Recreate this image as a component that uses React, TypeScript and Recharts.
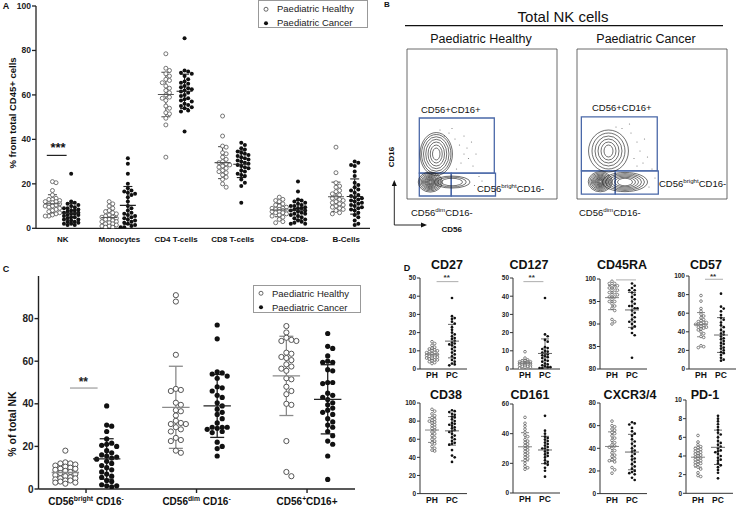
import React from 'react';
import { ScatterChart, Scatter, XAxis, YAxis, ErrorBar, ReferenceLine, ReferenceArea } from 'recharts';

const FONT = '"Liberation Sans", Arial, sans-serif';

// ---- Panel A: % of CD45+ cells ----
const aCategories = ['NK', 'Monocytes', 'CD4 T-cells', 'CD8 T-cells', 'CD4-CD8-', 'B-Cells'];
const aNkHealthy = [21, 20.5, 17, 15, 13.5, 13, 13, 12.5, 12, 12, 11.5, 11, 11, 10.5, 10, 10, 9.5, 9, 8.5, 8, 7.5, 7, 6.5, 6, 5.5, 5.5];
const aNkCancer = [24.5, 12, 11.5, 11, 10.5, 10, 9.5, 9, 9, 8.5, 8, 8, 7.5, 7, 7, 6.5, 6.5, 6, 6, 5.5, 5, 5, 4.5, 4, 4, 3.5, 3, 3, 2.5, 2, 2, 1.5, 1.5];
const aMonoHealthy = [12, 11, 10, 9, 8, 7.5, 7, 6.5, 6, 5.5, 5, 5, 4.5, 4, 4, 3.5, 3, 3, 2.5, 2, 2, 1.5, 1, 1, 0.5, 0.5];
const aMonoCancer = [31.5, 29, 24.5, 20, 18, 17, 16.5, 16, 15.5, 15, 14, 12, 10, 9, 8, 7, 6.5, 6, 5.5, 5, 4.5, 4, 3.5, 3, 2.5, 2, 1.5, 1, 0.5, 0.5];
const aCd4Healthy = [78.5, 72, 71, 69.5, 68.5, 67, 66.5, 65.5, 64, 63, 62, 61, 60, 59, 58.5, 57.5, 55, 54, 52, 51.5, 49.5, 46.5, 32];
const aCd4Cancer = [85.5, 71, 70.5, 70, 69.5, 68.5, 67, 66, 65.5, 65, 64, 63.5, 63, 62.5, 62, 61.5, 61, 60, 59.5, 58.5, 58, 57.5, 57, 56, 55.5, 55, 54.5, 54, 53, 52.5, 43.5];
const aCd8Healthy = [50.5, 41.5, 37, 36.5, 34, 33.5, 32, 31, 30, 29.5, 29, 28.5, 28, 27.5, 27, 26, 25.5, 25, 24, 23, 22, 20, 18.5];
const aCd8Cancer = [38.5, 37.5, 36, 35.5, 34.5, 34, 33.5, 33, 32.5, 32, 31.5, 31, 30.5, 30, 29.5, 29, 28.5, 28, 27.5, 27, 26, 25.5, 24.5, 24, 23.5, 22, 20.5, 19, 11.5];
const aDnHealthy = [14, 13, 12.5, 12, 11, 10.5, 10, 9.5, 9, 9, 8.5, 8.5, 8, 8, 7.5, 7.5, 7, 7, 6.5, 6, 5.5, 5, 4, 3, 2.5];
const aDnCancer = [21, 16.5, 13, 12.5, 12, 11.5, 11, 10.5, 10, 10, 9.5, 9, 9, 8.5, 8, 8, 7.5, 7, 6.5, 6.5, 6, 5.5, 5, 4.5, 4, 3.5, 3, 2.5, 2, 2];
const aBHealthy = [36.5, 25, 20.5, 19, 18.5, 17, 16.5, 15.5, 15, 14, 13.5, 13, 12.5, 12, 11.5, 11, 10.5, 10, 9.5, 9, 8.5, 8, 7, 6.5];
const aBCancer = [30, 29.5, 28.5, 28, 25.5, 23.5, 20.5, 19.5, 18.5, 17.5, 17, 16, 15, 14.5, 14, 13.5, 13, 12.5, 12, 11.5, 11, 10.5, 10, 9.5, 9, 8.5, 8, 7, 6, 5, 3.5, 2, 1.5];
const aHealthy = [aNkHealthy, aMonoHealthy, aCd4Healthy, aCd8Healthy, aDnHealthy, aBHealthy];
const aCancer = [aNkCancer, aMonoCancer, aCd4Cancer, aCd8Cancer, aDnCancer, aBCancer];

// ---- Panel C: % of total NK ----
const cLabels = [
  ['CD56', 'bright', ' CD16', '-'],
  ['CD56', 'dim', ' CD16', '-'],
  ['CD56', '+', 'CD16+', ''],
];
const cBrightHealthy = [18, 12.5, 12, 12, 11.5, 11, 10.5, 10, 9.5, 9.5, 9, 8.5, 8, 7.5, 7, 6.5, 6, 5.5, 5, 5, 4.5, 4, 4, 3.5, 3, 3, 2.5];
const cBrightCancer = [39, 30, 29.5, 27, 23.5, 21.5, 21, 20.5, 20, 18, 17, 16, 15.5, 15, 14.5, 14, 13, 12, 11, 10, 9, 8, 7, 6, 5.5, 4, 3.5, 2, 1.5, 1.5, 1];
const cDimHealthy = [91, 88, 63, 47, 46.5, 46, 40.5, 39.5, 37, 36.5, 34.5, 32, 31, 30.5, 30.5, 29, 28, 27, 24, 23, 22.5, 18, 17];
const cDimCancer = [77, 70.5, 55, 54.5, 54, 53, 52, 48, 47.5, 46, 44, 43, 40.5, 39, 37.5, 36, 35, 33, 31, 29, 29, 29, 28.5, 28, 27, 26.5, 22, 20, 19, 15.5];
const cPosHealthy = [76.5, 73.5, 71, 70, 69.5, 69.5, 64, 63.5, 62, 61.5, 60.5, 58.5, 57.5, 56.5, 55.5, 52, 51.5, 48, 46, 44.5, 40, 39.5, 22.5, 8, 6];
const cPosCancer = [73, 67, 66, 62.5, 60, 59.5, 59.5, 56, 55.5, 50, 50, 49.5, 45, 44, 43, 42, 40.5, 39.5, 38, 37, 36, 35, 33, 31.5, 30, 29, 27, 25, 22.5, 21, 15.5, 4.5];

// ---- Panel D: marker expression, PH vs PC ----
const dGroups = ['PH', 'PC'];
const dCd27Ph = [15, 14, 13, 12, 11.5, 11, 10.5, 10, 10, 9.5, 9, 9, 8.5, 8, 8, 7.5, 7.5, 7, 7, 6.5, 6.5, 6, 6, 5.5, 5, 5, 4.5, 4, 3.5, 3];
const dCd27Pc = [39, 29, 28, 27.5, 26, 25, 23, 21.5, 20, 19, 18, 17, 16.5, 15.5, 14.5, 14, 13.5, 13, 12, 11, 10, 9, 8, 7, 6, 5, 4, 3, 2.5, 2];
const dCd127Ph = [9.5, 6, 5, 4.5, 4.5, 4, 4, 4, 3.5, 3.5, 3.5, 3, 3, 3, 3, 2.5, 2.5, 2.5, 2, 2, 2, 1.5, 1.5, 1, 1, 0.5];
const dCd127Pc = [39, 19, 18, 16, 15, 12, 11.5, 11, 10, 9.5, 9, 8.5, 8, 7.5, 7, 6.5, 6, 5, 4.5, 4, 3, 2.5, 2, 1.5, 1, 1, 0.5, 0.5];
const dCd45raPh = [99.5, 99, 99, 98.5, 98.5, 98, 98, 97.5, 97.5, 97, 97, 96.5, 96.5, 96, 96, 95.5, 95, 95, 94.5, 94, 93.5, 93, 91, 90.5, 90];
const dCd45raPc = [99, 98.5, 98, 97.5, 97.5, 97, 96.5, 96, 95.5, 95, 94.5, 94, 94, 93.5, 93.5, 93, 92.5, 92, 91.5, 91, 90.5, 90.5, 90, 89.5, 89, 88, 87.5, 82.5];
const dCd57Ph = [79, 73, 65, 62, 59, 57, 55, 53, 52, 51, 50, 50, 49, 48, 48, 47, 46, 45, 45, 44, 43, 42, 40, 38, 35, 34, 25, 24, 23];
const dCd57Pc = [81, 67, 65, 62, 58, 55, 53, 50, 47, 45, 42, 40, 38, 37, 35, 33, 32, 30, 28, 27, 25, 23, 22, 20, 18, 17, 15, 12, 10, 9];
const dCd38Ph = [93, 91, 88, 86, 84, 82, 81, 80, 79, 78, 76, 75, 73, 72, 70, 68, 66, 64, 62, 60, 58, 56, 55, 52, 50, 48, 47];
const dCd38Pc = [92, 91, 90, 88, 87, 85, 84, 82, 80, 78, 77, 76, 75, 73, 72, 70, 69, 68, 66, 64, 62, 60, 58, 56, 55, 54, 48, 42, 40, 35];
const dCd161Ph = [51, 47, 45, 43, 41, 39, 38, 36, 35, 34, 33, 32, 31, 30, 29, 28, 27, 26, 25, 24, 23, 22, 20, 18, 17, 16];
const dCd161Pc = [52, 42, 40, 38, 37, 36, 35, 34, 33, 32, 31, 30, 30, 29, 28, 27, 26, 25, 24, 22, 21, 20, 19, 17, 15, 11];
const dCxcrPh = [64, 60, 59, 57, 56, 54, 53, 51, 49, 47, 45, 43, 42, 41, 40, 38, 36, 34, 33, 31, 30, 29, 28, 23, 21, 18];
const dCxcrPc = [63, 62, 61, 58, 55, 53, 51, 48, 46, 44, 42, 40, 38, 37, 35, 33, 31, 30, 28, 26, 24, 22, 20, 19, 18, 17, 14, 12];
const dPd1Ph = [6.2, 5.5, 5.2, 5, 4.9, 4.8, 4.7, 4.6, 4.5, 4.4, 4.3, 4.2, 4.1, 4, 3.9, 3.8, 3.7, 3.6, 3.5, 3.4, 3.3, 3.2, 3.1, 3, 2.8, 2.6, 2.2, 1.9, 1.8];
const dPd1Pc = [8.3, 8, 7.7, 7.4, 7.1, 6.8, 6.5, 6.3, 6, 5.6, 5.4, 5.2, 5, 4.8, 4.6, 4.5, 4.4, 4.2, 4, 3.8, 3.6, 3.5, 3.2, 3, 2.8, 2.5, 2.2, 1.6];

// ---- Panel B: gates, contour rings and stray events (axis units 0-100) ----
const flowDecades = [12, 31, 56, 80, 100];
const flowLinear = [1.5, 3, 4.5, 6, 8];
const phGates = [
  { x1: 8.2, x2: 58.2, y1: 17.3, y2: 54 },
  { x1: 8.2, x2: 29.5, y1: 2, y2: 17.3 },
  { x1: 29.5, x2: 59, y1: 2, y2: 17.3 },
];
const pcGates = [
  { x1: 2.9, x2: 53.5, y1: 18.7, y2: 54.7 },
  { x1: 2.9, x2: 25.5, y1: 3.3, y2: 18.7 },
  { x1: 25.5, x2: 54.2, y1: 3.3, y2: 18.7 },
];
const phContours = [
  { x: 15.5, y: 11.3, rx: [0.8, 1.4, 2, 2.6, 3.2, 3.8, 4.5, 5.2, 6, 7, 8], ry: [0.7, 1.2, 1.7, 2.2, 2.7, 3.2, 3.8, 4.4, 5.1, 5.9, 6.7] },
  { x: 19.5, y: 30, rx: [2.5, 4, 5.5, 7, 8.5, 9.8, 10.8], ry: [4, 6, 8, 9.8, 11.5, 13, 14.3] },
  { x: 30, y: 11.3, rx: [7, 9.5, 12], ry: [2.5, 3.3, 4] },
];
const pcContours = [
  { x: 15.5, y: 11.5, rx: [0.8, 1.4, 2, 2.6, 3.2, 3.8, 4.5, 5.2, 6, 7, 8], ry: [0.7, 1.2, 1.7, 2.2, 2.7, 3.2, 3.8, 4.4, 5.1, 5.9, 6.7] },
  { x: 21, y: 32, rx: [3, 5, 7, 9, 11, 13.3], ry: [4, 6, 8, 10, 12, 14] },
  { x: 32, y: 11.3, rx: [5, 7, 9, 11, 13, 15], ry: [2.5, 3.2, 4, 4.8, 5.6, 6.4] },
];
const phEvents = [
  { x: 32, y: 40 }, { x: 35, y: 36 }, { x: 38, y: 30 }, { x: 41, y: 27 }, { x: 28, y: 44 }, { x: 44, y: 22 },
  { x: 36, y: 24 }, { x: 30, y: 47 }, { x: 25, y: 42 }, { x: 40, y: 34 }, { x: 46, y: 30 }, { x: 33, y: 20 },
  { x: 48, y: 15 }, { x: 45, y: 9 }, { x: 50, y: 12 }, { x: 22, y: 46 }, { x: 38, y: 42 }, { x: 43, y: 38 },
];
const pcEvents = [
  { x: 36, y: 44 }, { x: 40, y: 38 }, { x: 42, y: 32 }, { x: 38, y: 27 }, { x: 44, y: 24 }, { x: 30, y: 47 },
  { x: 47, y: 28 }, { x: 35, y: 50 }, { x: 26, y: 48 }, { x: 50, y: 20 }, { x: 52, y: 14 }, { x: 48, y: 8 },
  { x: 45, y: 40 }, { x: 40, y: 22 },
];

const flowTicks: number[] = [...flowLinear];
for (let i = 0; i < flowDecades.length - 1; i++) {
  for (let k = 1; k < 10; k++) flowTicks.push(flowDecades[i] + Math.log10(k) * (flowDecades[i + 1] - flowDecades[i]));
}

function stats(v: number[]) {
  const m = v.reduce((a, b) => a + b, 0) / v.length;
  const sd = Math.sqrt(v.reduce((a, b) => a + (b - m) * (b - m), 0) / (v.length - 1));
  return { mean: m, sd };
}

// simple beeswarm: spread points sideways only where they would overlap
function swarm(values: number[], cx: number, pxX: number, pxY: number, step: number, maxOff: number) {
  const cand: number[] = [0];
  for (let k = 1; k * step <= maxOff + 0.01; k++) cand.push(k * step, -k * step);
  const placed: [number, number][] = [];
  const out = values.map((v) => ({ x: cx, y: v }));
  const order = values.map((_, i) => i).sort((a, b) => values[b] - values[a]);
  for (const i of order) {
    const py = values[i] * pxY;
    let best = 0;
    let bestD = -1;
    for (const c of cand) {
      let md = Infinity;
      for (const [qx, qy] of placed) md = Math.min(md, Math.hypot(qx - c, qy - py));
      if (md >= step) { best = c; break; }
      if (md > bestD) { bestD = md; best = c; }
    }
    placed.push([best, py]);
    out[i] = { x: cx + best / pxX, y: values[i] };
  }
  return out;
}

type Group = { x: number; values: number[]; filled: boolean; bar: string; meanHalf: number; cap: number };
type Sig = { x1: number; x2: number; y: number; color: string; width: number };
type PlotProps = {
  x0: number; x1: number; y0: number; y1: number;
  xDomain: [number, number]; yDomain: [number, number]; yTicks: number[];
  xTicks: number[]; xLabel: (i: number) => React.ReactNode; xFont: number; xTickMargin: number; xTickSize: number;
  groups: Group[]; r: number; openStroke: number; step: number; maxOff: number; barWidth: number;
  yAxisW: number; xAxisH: number; tickFont: number; yTickSize: number; axisWidth: number; axisColor?: string;
  sig?: Sig;
};

function DotPlot(p: PlotProps) {
  const mt = 6;
  const mr = 3;
  const left = p.x0 - p.yAxisW;
  const top = p.y0 - mt;
  const width = p.x1 - left + mr;
  const height = p.y1 - top + p.xAxisH;
  const pxX = (p.x1 - p.x0) / (p.xDomain[1] - p.xDomain[0]);
  const pxY = (p.y1 - p.y0) / (p.yDomain[1] - p.yDomain[0]);
  const ac = p.axisColor ?? '#222';
  const axisLine = { stroke: ac, strokeWidth: p.axisWidth };
  return (
    <div style={{ position: 'absolute', left, top }}>
      <ScatterChart width={width} height={height} margin={{ top: mt, right: mr, bottom: 0, left: 0 }}>
        <XAxis
          type="number" dataKey="x" domain={p.xDomain} ticks={p.xTicks} interval={0} allowDataOverflow
          height={p.xAxisH} axisLine={axisLine} tickLine={p.xTickSize > 0 ? axisLine : false} tickSize={p.xTickSize} tickMargin={p.xTickMargin}
          tick={(t: any) => (
            <text x={t.x} y={t.y} dy="0.71em" textAnchor="middle" fontSize={p.xFont} fontWeight={700} fontFamily={FONT} fill="#111">
              {p.xLabel(t.index)}
            </text>
          )}
        />
        <YAxis
          type="number" dataKey="y" domain={p.yDomain} ticks={p.yTicks} interval={0} allowDataOverflow
          width={p.yAxisW} axisLine={axisLine} tickLine={axisLine}
          tickSize={p.yTickSize} tickMargin={1}
          tick={{ fontSize: p.tickFont, fontWeight: 700, fill: '#222', fontFamily: FONT }}
        />
        {p.sig && (
          <ReferenceLine
            segment={[{ x: p.sig.x1, y: p.sig.y }, { x: p.sig.x2, y: p.sig.y }]}
            stroke={p.sig.color} strokeWidth={p.sig.width} ifOverflow="visible"
          />
        )}
        {p.groups.map((g, i) => (
          <Scatter
            key={'pts' + i}
            data={swarm(g.values, g.x, pxX, pxY, p.step, p.maxOff)}
            isAnimationActive={false}
            shape={(s: any) => (
              <circle
                cx={s.cx} cy={s.cy} r={p.r}
                fill={g.filled ? '#111' : '#fff'}
                stroke={g.filled ? '#111' : '#555'}
                strokeWidth={g.filled ? 0 : p.openStroke}
              />
            )}
          />
        ))}
        {p.groups.map((g, i) => {
          const s = stats(g.values);
          return (
            <Scatter
              key={'mean' + i}
              data={[{ x: g.x, y: s.mean, err: s.sd }]}
              isAnimationActive={false}
              shape={(q: any) => (
                <line x1={q.cx - g.meanHalf} x2={q.cx + g.meanHalf} y1={q.cy} y2={q.cy} stroke={g.bar} strokeWidth={p.barWidth} />
              )}
            >
              <ErrorBar dataKey="err" direction="y" width={g.cap} stroke={g.bar} strokeWidth={p.barWidth} />
            </Scatter>
          );
        })}
      </ScatterChart>
    </div>
  );
}

type Contour = { x: number; y: number; rx: number[]; ry: number[] };
type Gate = { x1: number; x2: number; y1: number; y2: number };

function FlowPlot({ x0, y0, gates, contours, events }: { x0: number; y0: number; gates: Gate[]; contours: Contour[]; events: { x: number; y: number }[] }) {
  const S = 150;
  const ax = 5;
  const m = 2;
  const k = S / 100;
  const rings = contours.flatMap((c) => c.rx.map((rx, i) => ({ x: c.x, y: c.y, rx, ry: c.ry[i] })));
  const tl = { stroke: '#777', strokeWidth: 0.6 };
  return (
    <div style={{ position: 'absolute', left: x0 - ax - m, top: y0 - m }}>
      <ScatterChart width={S + ax + 2 * m} height={S + ax + 2 * m} margin={{ top: m, right: m, bottom: m, left: m }}>
        <XAxis type="number" dataKey="x" domain={[0, 100]} ticks={flowTicks} interval={0} height={ax}
          axisLine={false} tickLine={tl} tickSize={3} tick={false} />
        <YAxis type="number" dataKey="y" domain={[0, 100]} ticks={flowTicks} interval={0} width={ax}
          axisLine={false} tickLine={tl} tickSize={3} tick={false} />
        <ReferenceArea x1={0} x2={100} y1={0} y2={100} fill="none" stroke="#444" strokeWidth={0.8} />
        <Scatter
          data={events}
          isAnimationActive={false}
          shape={(s: any) => <circle cx={s.cx} cy={s.cy} r={0.6} fill="#777" />}
        />
        <Scatter
          data={rings}
          isAnimationActive={false}
          shape={(s: any) => {
            const d = s.payload ?? s;
            return <ellipse cx={s.cx} cy={s.cy} rx={d.rx * k} ry={d.ry * k} fill="none" stroke="#222" strokeWidth={0.65} />;
          }}
        />
        {gates.map((g, i) => (
          <ReferenceArea key={i} x1={g.x1} x2={g.x2} y1={g.y1} y2={g.y2} fill="none" stroke="#4a68a8" strokeWidth={1.3} />
        ))}
      </ScatterChart>
    </div>
  );
}

function Txt({ x, y, size, bold, anchor = 'middle', rotate, children, color = '#111' }: {
  x: number; y: number; size: number; bold?: boolean; anchor?: 'middle' | 'start'; rotate?: boolean; children: React.ReactNode; color?: string;
}) {
  const tr = (anchor === 'middle' ? 'translate(-50%,-50%)' : 'translate(0,-50%)') + (rotate ? ' rotate(-90deg)' : '');
  return (
    <div style={{ position: 'absolute', left: x, top: y, transform: tr, fontSize: size, fontWeight: bold ? 700 : 400, color, lineHeight: 1, whiteSpace: 'nowrap', fontFamily: FONT }}>
      {children}
    </div>
  );
}

function LegendBox({ x, y, w, h, rows }: { x: number; y: number; w: number; h: number; rows: number[] }) {
  const items = [
    { label: 'Paediatric Healthy', filled: false },
    { label: 'Paediatric Cancer', filled: true },
  ];
  return (
    <div style={{ position: 'absolute', left: x, top: y, width: w, height: h, border: '1px solid #999', background: '#fff', boxSizing: 'border-box' }}>
      {items.map((it, i) => (
        <div key={i} style={{ position: 'absolute', left: 3, top: rows[i], transform: 'translateY(-50%)', display: 'flex', alignItems: 'center', fontSize: 9.5, fontFamily: FONT, color: '#222', whiteSpace: 'nowrap', lineHeight: 1 }}>
          <svg width={8} height={8} style={{ marginRight: 7 }}>
            <circle cx={4} cy={4} r={2} fill={it.filled ? '#111' : '#fff'} stroke={it.filled ? '#111' : '#444'} strokeWidth={it.filled ? 0 : 0.8} />
          </svg>
          {it.label}
        </div>
      ))}
    </div>
  );
}

const sup = (t: string) => <sup style={{ fontSize: '0.65em' }}>{t}</sup>;

export default function App() {
  const aGroups: Group[] = aCategories.flatMap((_, i) => [
    { x: i - 0.18, values: aHealthy[i], filled: false, bar: '#555', meanHalf: 8, cap: 4.5 },
    { x: i + 0.15, values: aCancer[i], filled: true, bar: '#222', meanHalf: 8, cap: 4.5 },
  ]);

  const cVals = [cBrightHealthy, cBrightCancer, cDimHealthy, cDimCancer, cPosHealthy, cPosCancer];
  const cGroups: Group[] = cVals.map((v, i) => ({
    x: Math.floor(i / 2) + (i % 2 === 0 ? -0.187 : 0.187),
    values: v, filled: i % 2 === 1, bar: i % 2 === 1 ? '#222' : '#8a8a8a', meanHalf: 13.7, cap: 7,
  }));

  const dPanels = [
    { title: 'CD27', ph: dCd27Ph, pc: dCd27Pc, x0: 420, y0: 278, y1: 369, dom: [0, 50], ticks: [0, 10, 20, 30, 40, 50], tx: 447, ty: 264.5, sig: { x1: 0.23, x2: 1.32, y: 48 }, stars: [446.7, 278] },
    { title: 'CD127', ph: dCd127Ph, pc: dCd127Pc, x0: 513, y0: 278, y1: 369, dom: [0, 50], ticks: [0, 10, 20, 30, 40, 50], tx: 529, ty: 264.5, sig: { x1: -0.08, x2: 0.92, y: 48 }, stars: [531.7, 278] },
    { title: 'CD45RA', ph: dCd45raPh, pc: dCd45raPc, x0: 600, y0: 279, y1: 369, dom: [80, 100], ticks: [80, 85, 90, 95, 100], tx: 622, ty: 264.5, sig: { x1: 0.2, x2: 1.2, y: 99.8 }, stars: null },
    { title: 'CD57', ph: dCd57Ph, pc: dCd57Pc, x0: 689, y0: 276, y1: 369, dom: [0, 100], ticks: [0, 20, 40, 60, 80, 100], tx: 706, ty: 264.5, sig: { x1: 0.2, x2: 1.1, y: 96.5 }, stars: [713, 277] },
    { title: 'CD38', ph: dCd38Ph, pc: dCd38Pc, x0: 420, y0: 402.7, y1: 493.3, dom: [0, 100], ticks: [0, 20, 40, 60, 80, 100], tx: 446, ty: 395, sig: null, stars: null },
    { title: 'CD161', ph: dCd161Ph, pc: dCd161Pc, x0: 513, y0: 404.3, y1: 493.3, dom: [0, 60], ticks: [0, 20, 40, 60], tx: 530, ty: 395, sig: null, stars: null },
    { title: 'CXCR3/4', ph: dCxcrPh, pc: dCxcrPc, x0: 600, y0: 402.7, y1: 493.3, dom: [0, 80], ticks: [0, 20, 40, 60, 80], tx: 630, ty: 395, sig: null, stars: null },
    { title: 'PD-1', ph: dPd1Ph, pc: dPd1Pc, x0: 686, y0: 400, y1: 493.3, dom: [0, 10], ticks: [0, 2, 4, 6, 8, 10], tx: 705, ty: 395, sig: null, stars: null },
  ];

  return (
    <div style={{ position: 'absolute', left: 0, top: 0, width: 740, height: 510, background: '#fff', overflow: 'hidden', fontFamily: FONT }}>
      {/* A */}
      <DotPlot
        x0={36} x1={370} y0={5.7} y1={228}
        xDomain={[-0.47, 5.42]} yDomain={[0, 100]} yTicks={[0, 20, 40, 60, 80, 100]}
        xTicks={[0, 1, 2, 3, 4, 5]} xLabel={(i) => aCategories[i]} xFont={8} xTickMargin={8} xTickSize={0}
        groups={aGroups} r={2} openStroke={0.8} step={3.6} maxOff={9} barWidth={1.1}
        yAxisW={36} xAxisH={20} tickFont={8.5} yTickSize={4} axisWidth={1.3}
        sig={{ x1: -0.28, x2: 0.07, y: 32.8, color: '#222', width: 1.2 }}
      />
      {/* C */}
      <DotPlot
        x0={38.5} x1={355} y0={275.5} y1={488.5}
        xDomain={[-0.43, 2.434]} yDomain={[0, 100]} yTicks={[0, 20, 40, 60, 80]}
        xTicks={[0, 1, 2]}
        xLabel={(i) => {
          const l = cLabels[i];
          return (
            <>
              <tspan>{l[0]}</tspan>
              <tspan fontSize={6.8} dy={-3.8}>{l[1]}</tspan>
              <tspan dy={3.8}>{l[2]}</tspan>
              <tspan fontSize={6.8} dy={-3.8}>{l[3]}</tspan>
            </>
          );
        }}
        xFont={10} xTickMargin={5} xTickSize={4}
        groups={cGroups} r={2.6} openStroke={1} step={5} maxOff={14} barWidth={1.3}
        yAxisW={38.5} xAxisH={20} tickFont={10} yTickSize={4} axisWidth={1.4}
        sig={{ x1: -0.145, x2: 0.105, y: 47.4, color: '#888', width: 1 }}
      />
      {/* D */}
      {dPanels.map((d, i) => (
        <DotPlot
          key={i}
          x0={d.x0} x1={d.x0 + 47} y0={d.y0} y1={d.y1}
          xDomain={[-0.6, 1.75]} yDomain={d.dom as [number, number]} yTicks={d.ticks}
          xTicks={[0, 1]} xLabel={(j) => dGroups[j]} xFont={8.5} xTickMargin={3.3} xTickSize={0}
          groups={[
            { x: 0, values: d.ph, filled: false, bar: '#777', meanHalf: 7, cap: 4 },
            { x: 1, values: d.pc, filled: true, bar: '#555', meanHalf: 7, cap: 4 },
          ]}
          r={1.35} openStroke={0.7} step={2.7} maxOff={7.5} barWidth={0.9}
          yAxisW={18} xAxisH={14} tickFont={6.5} yTickSize={3} axisWidth={1} axisColor="#333"
          sig={d.sig ? { ...d.sig, color: '#999', width: 0.8 } : undefined}
        />
      ))}
      {dPanels.map((d, i) => (
        <Txt key={'t' + i} x={d.tx} y={d.ty} size={12.5} bold>{d.title}</Txt>
      ))}
      {dPanels.map((d, i) => d.stars && (
        <Txt key={'s' + i} x={d.stars[0]} y={d.stars[1]} size={8} bold color="#333">**</Txt>
      ))}

      {/* B */}
      <FlowPlot x0={406.7} y0={49} gates={phGates} contours={phContours} events={phEvents} />
      <FlowPlot x0={576.7} y0={49} gates={pcGates} contours={pcContours} events={pcEvents} />
      <svg width={740} height={510} style={{ position: 'absolute', left: 0, top: 0, pointerEvents: 'none' }}>
        <line x1={405} x2={723} y1={25.7} y2={25.7} stroke="#111" strokeWidth={1.2} />
        <line x1={394.3} x2={394.3} y1={225} y2={184} stroke="#111" strokeWidth={0.9} />
        <polygon points="394.3,180 391.8,186 396.8,186" fill="#111" />
        <line x1={394.3} x2={423} y1={225} y2={225} stroke="#111" strokeWidth={0.9} />
        <polygon points="427,225 421,222.5 421,227.5" fill="#111" />
      </svg>
      <Txt x={563} y={16} size={15}>Total NK cells</Txt>
      <Txt x={481} y={39} size={12.5}>Paediatric Healthy</Txt>
      <Txt x={646} y={39} size={12.5}>Paediatric Cancer</Txt>
      <Txt x={421} y={109.5} size={9.5} anchor="start">CD56+CD16+</Txt>
      <Txt x={592} y={108.3} size={9.5} anchor="start">CD56+CD16+</Txt>
      <Txt x={477} y={188.3} size={9.5} anchor="start">CD56{sup('bright')}CD16-</Txt>
      <Txt x={659} y={183.3} size={9.5} anchor="start">CD56{sup('bright')}CD16-</Txt>
      <Txt x={411} y={211.7} size={9.5} anchor="start">CD56{sup('dim')}CD16-</Txt>
      <Txt x={579} y={212.3} size={9.5} anchor="start">CD56{sup('dim')}CD16-</Txt>
      <Txt x={391.7} y={156.7} size={8} bold rotate>CD16</Txt>
      <Txt x={451.7} y={230} size={8} bold>CD56</Txt>

      {/* labels, legends, significance */}
      <Txt x={6} y={6} size={9} bold>A</Txt>
      <Txt x={387} y={5} size={8} bold>B</Txt>
      <Txt x={6} y={269} size={9} bold>C</Txt>
      <Txt x={407} y={268} size={9} bold>D</Txt>
      <Txt x={13.3} y={113} size={9.5} bold rotate>% from total CD45+ cells</Txt>
      <Txt x={11.7} y={424} size={10.5} bold rotate>% of total NK</Txt>
      <Txt x={58} y={147} size={13} bold>***</Txt>
      <Txt x={83.3} y={382} size={12} bold color="#222">**</Txt>
      <LegendBox x={258} y={0} w={110} h={28} rows={[8, 22]} />
      <LegendBox x={253} y={285} w={108} h={28} rows={[7.7, 21.7]} />
    </div>
  );
}
